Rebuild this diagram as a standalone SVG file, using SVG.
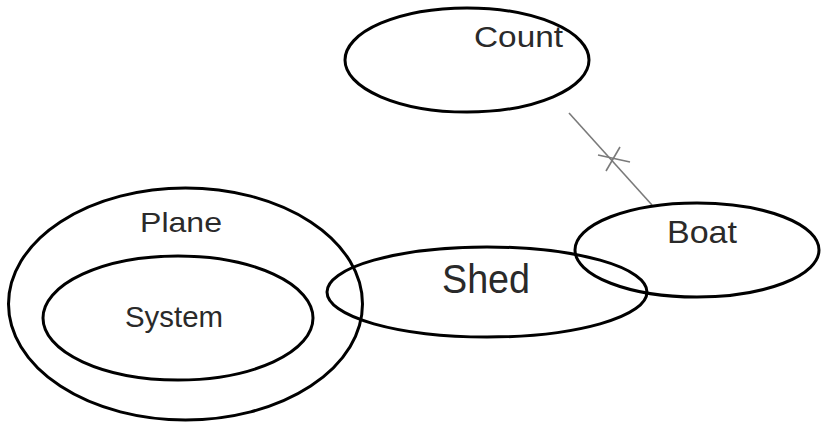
<svg xmlns="http://www.w3.org/2000/svg" width="821" height="423" viewBox="0 0 821 423">
  <style>
    .shape { fill: none; stroke: #000; stroke-width: 3; }
    .label { font-family: "Liberation Sans", Arial, sans-serif; fill: #2a2a2a; text-anchor: middle; }
    .link { stroke: #7a7a7a; stroke-width: 1.6; fill: none; }
  </style>
  <rect width="821" height="423" fill="#fff"/>

  <g id="connectors">
    <line class="link" x1="569" y1="113" x2="652" y2="205"/>
    <line class="link" x1="598" y1="155" x2="630" y2="162"/>
    <line class="link" x1="620" y1="147" x2="606" y2="171"/>
  </g>

  <g id="count">
    <ellipse class="shape" cx="467" cy="60" rx="122" ry="52"/>
    <text class="label" x="518.5" y="47" font-size="30" textLength="89" lengthAdjust="spacingAndGlyphs">Count</text>
  </g>

  <g id="plane">
    <ellipse class="shape" cx="185.5" cy="304" rx="177" ry="116"/>
    <text class="label" x="181" y="232" font-size="28" textLength="82" lengthAdjust="spacingAndGlyphs">Plane</text>
  </g>

  <g id="system">
    <ellipse class="shape" cx="178" cy="318" rx="135" ry="62"/>
    <text class="label" x="174" y="327" font-size="29" textLength="98" lengthAdjust="spacingAndGlyphs">System</text>
  </g>

  <g id="shed">
    <ellipse class="shape" cx="487" cy="292" rx="160" ry="45"/>
    <text class="label" x="486" y="293" font-size="40" textLength="88" lengthAdjust="spacingAndGlyphs">Shed</text>
  </g>

  <g id="boat">
    <ellipse class="shape" cx="697" cy="250" rx="122" ry="47"/>
    <text class="label" x="702" y="243" font-size="32" textLength="70" lengthAdjust="spacingAndGlyphs">Boat</text>
  </g>
</svg>
